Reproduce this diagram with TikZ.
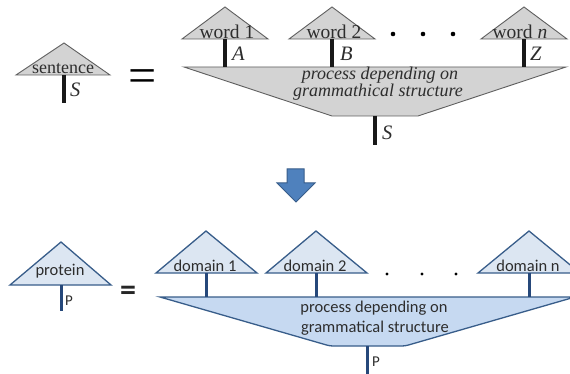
\documentclass[tikz,border=0pt]{standalone}
\usepackage{fontspec}
\setmainfont{Liberation Serif}
\newfontfamily\carl{Carlito}
\definecolor{gfill}{RGB}{211,211,211}
\definecolor{gline}{RGB}{95,95,95}
\definecolor{bfill}{RGB}{220,230,242}
\definecolor{pfill}{RGB}{198,217,241}
\definecolor{bline}{RGB}{56,93,138}
\definecolor{bstem}{RGB}{38,72,122}
\definecolor{afill}{RGB}{79,129,189}
\definecolor{txt}{RGB}{45,45,45}
\begin{document}
\begin{tikzpicture}[x=1pt,y=-1pt,
  gtri/.style={fill=gfill,draw=gline,line width=0.9pt,line join=miter},
  gstem/.style={line width=3.6pt,draw=black!90},
  btri/.style={fill=bfill,draw=bline,line width=1.3pt,line join=miter},
  bproc/.style={fill=pfill,draw=bline,line width=1.3pt,line join=miter},
  bstemst/.style={line width=3pt,draw=bstem},
  wtext/.style={font=\fontsize{19.5}{19.5}\selectfont,text=txt,inner sep=0pt,anchor=base},
  stext/.style={font=\fontsize{18}{18}\selectfont,text=txt,inner sep=0pt,anchor=base},
  ptext/.style={font=\fontsize{18}{18}\selectfont\itshape,text=txt,inner sep=0pt,anchor=base},
  letter/.style={font=\fontsize{20.5}{20.5}\selectfont\itshape,text=txt,inner sep=0pt,anchor=base west},
  ctext/.style={font=\carl\fontsize{16.5}{16.5}\selectfont,text=txt,inner sep=0pt,anchor=base},
  cletter/.style={font=\carl\fontsize{15}{15}\selectfont,text=txt,inner sep=0pt,anchor=base west},
  gdot/.style={circle,fill=black,inner sep=0pt,minimum size=4.6pt},
  bdot/.style={circle,fill=black,inner sep=0pt,minimum size=3.2pt}]
\useasboundingbox (0,0) rectangle (570,374);
\clip (0,0) rectangle (570,374);
\fill[white] (0,0) rectangle (570,374);

% ---------- top: sentence ----------
\draw[gtri] (64,43) -- (16,75) -- (110,75) -- cycle;
\node[stext] (sent) at (63,74) {sentence};
\coordinate (sb) at (64,75); \coordinate (se) at (64,103);
\draw[gstem] (sb) -- (se);
\node[letter] (S1) at (70,97) {S};

\node[font=\fontsize{50}{50}\selectfont,inner sep=0pt] (eq1) at (143,81) {=};

% word triangles
\draw[gtri] (225,7) -- (182,39) -- (268,39) -- cycle;
\draw[gtri] (332,7) -- (289,39) -- (375,39) -- cycle;
\draw[gtri] (524,7) -- (481,39) -- (567,39) -- cycle;
\node[wtext] (w1) at (227,38.5) {word 1};
\node[wtext] (w2) at (334,38.5) {word 2};
\node[wtext] (wn) at (520,38.5) {word \textit{n}};

% process polygon
\draw[gtri] (184,67) -- (566,67) -- (418,116) -- (332,116) -- cycle;
\node[ptext] (p1) at (380,79.5) {process depending on};
\node[ptext] (p2) at (378,96.5) {grammathical structure};

\coordinate (w1b) at (225,39); \coordinate (w1e) at (225,67);
\coordinate (w2b) at (332,39); \coordinate (w2e) at (332,67);
\coordinate (wnb) at (524,39); \coordinate (wne) at (524,67);
\draw[gstem] (w1b) -- (w1e);
\draw[gstem] (w2b) -- (w2e);
\draw[gstem] (wnb) -- (wne);
\node[letter] (A) at (232,61) {A};
\node[letter] (B) at (340,61) {B};
\node[letter] (Z) at (530,61) {Z};

\coordinate (ob) at (375,116); \coordinate (oe) at (375,145);
\draw[gstem] (ob) -- (oe);
\node[letter] (S2) at (382,140) {S};

\node[gdot] (d1) at (393,34) {};
\node[gdot] (d2) at (423,34) {};
\node[gdot] (d3) at (453,34) {};

% ---------- arrow ----------
\draw[fill=afill,draw=bline,line width=1pt,line join=miter]
  (287,169) -- (304,169) -- (304,183) -- (315,183) -- (296,202) -- (277,183) -- (287,183) -- cycle;

% ---------- bottom: protein ----------
\draw[btri] (61,242) -- (10,285) -- (111,285) -- cycle;
\node[ctext] (prot) at (60,275) {protein};
\coordinate (pb) at (61,285); \coordinate (pe) at (61,311);
\draw[bstemst] (pb) -- (pe);
\node[cletter] (P1) at (65,305) {P};

\node[font=\carl\bfseries\fontsize{32}{32}\selectfont,text=black!85,inner sep=0pt] (eq2) at (128,293) {=};

\draw[btri] (206,231) -- (156,273) -- (257,273) -- cycle;
\draw[btri] (316,231) -- (266,273) -- (367,273) -- cycle;
\draw[btri] (529,231) -- (478,273) -- (580,273) -- cycle;
\node[ctext] (dm1) at (205,271) {domain 1};
\node[ctext] (dm2) at (315,271) {domain 2};
\node[ctext] (dmn) at (528,271) {domain n};

\draw[bproc] (160,297) -- (575,297) [rounded corners=3pt] -- (405,346) -- (330,346) [sharp corners] -- cycle;
\node[ctext] (q1) at (374,312) {process depending on};
\node[ctext] (q2) at (375,332) {grammatical structure};

\coordinate (d1b) at (206,273); \coordinate (d1e) at (206,297);
\coordinate (d2b) at (316,273); \coordinate (d2e) at (316,297);
\coordinate (dnb) at (529,273); \coordinate (dne) at (529,297);
\draw[bstemst] (d1b) -- (d1e);
\draw[bstemst] (d2b) -- (d2e);
\draw[bstemst] (dnb) -- (dne);

\coordinate (qb) at (367,346); \coordinate (qe) at (367,376);
\draw[bstemst] (qb) -- (qe);
\node[cletter] (P2) at (372,366) {P};

\node[bdot] (e1) at (387,274) {};
\node[bdot] (e2) at (422,274) {};
\node[bdot] (e3) at (456,274) {};
\end{tikzpicture}
\end{document}
